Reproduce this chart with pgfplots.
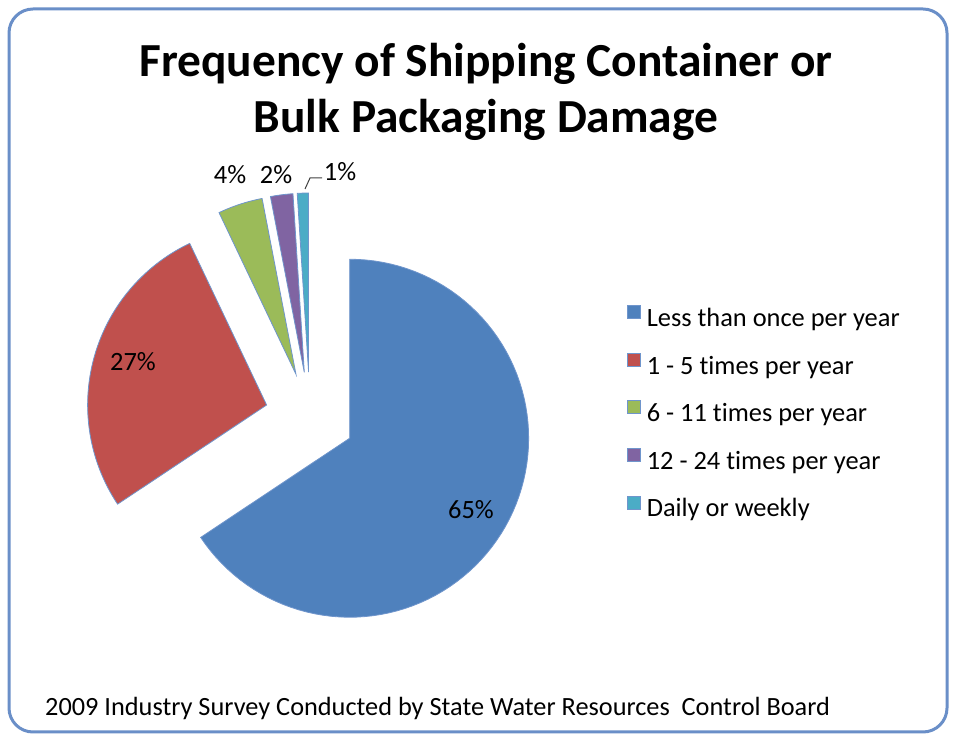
\documentclass[border=0pt]{standalone}
\usepackage{fontspec}
\setmainfont{Carlito}[Ligatures=NoCommon]
\usepackage{pgfplots}
\pgfplotsset{compat=1.18}
\definecolor{sblue}{HTML}{4F81BD}
\definecolor{sred}{HTML}{C0504D}
\definecolor{sgreen}{HTML}{9BBB59}
\definecolor{spurple}{HTML}{8064A2}
\definecolor{scyan}{HTML}{4BACC6}
\definecolor{edge}{HTML}{6F95CC}
\definecolor{border}{HTML}{6A8FC8}
% one pie slice: #1 = cumulative share before it, #2 = its share, #3 = colour
\newcommand\pieslice[3]{%
  \pgfmathsetmacro\aS{90-(#1+#2)/99*360}%
  \pgfmathsetmacro\aE{90-(#1)/99*360}%
  \pgfmathsetmacro\cx{310+45*cos(90-(#1+#2/2)/99*360)}%
  \pgfmathsetmacro\cy{319+45*sin(90-(#1+#2/2)/99*360)}%
  \edef\temp{\noexpand\addplot[fill=#3, draw=edge, line width=0.8bp,
     domain=\aS:\aE, samples=90]
     ({\cx+179*cos(x)},{\cy+179*sin(x)}) -- (axis cs:\cx,\cy) -- cycle;}%
  \temp}
\begin{document}
\begin{tikzpicture}
\begin{axis}[x=1bp, y=1bp, xmin=0, xmax=953, ymin=0, ymax=736,
  scale only axis, hide axis, clip=false,
  legend cell align=left,
  legend image code/.code={\draw[#1, line width=0.6bp] (0bp,1.5bp) rectangle (13bp,14.5bp);},
  legend style={at={(axis cs:627,431)}, anchor=north west, draw=none, fill=none,
    inner sep=0pt, row sep=21.3bp,
    font=\fontsize{26.5}{30}\selectfont,
    nodes={inner sep=0pt, text height=18bp, text depth=5bp}},
  ]
\path (axis cs:0,0) rectangle (axis cs:953,736);
\draw[border, line width=3bp, rounded corners=24bp] (axis cs:9,4) rectangle (axis cs:947,727);
% values: 65, 27, 4, 2, 1 (percent)
\pieslice{0}{65}{sblue}
\pieslice{65}{27}{sred}
\pieslice{92}{4}{sgreen}
\pieslice{96}{2}{spurple}
\pieslice{98}{1}{scyan}
\legend{\ Less than once per year,\ 1 - 5 times per year,\ 6 - 11 times per year,\ 12 - 24 times per year,\ Daily or weekly}
\node[anchor=base, font=\fontsize{47.6}{56}\selectfont\bfseries] at (axis cs:486,659) {Frequency of Shipping Container or};
\node[anchor=base, font=\fontsize{47.6}{56}\selectfont\bfseries] at (axis cs:486,603) {Bulk Packaging Damage};
\node[anchor=base west, font=\fontsize{26.4}{30}\selectfont, inner sep=0pt] at (axis cs:45,20) {2009 Industry Survey Conducted by State Water Resources\ \ Control Board};
\node[font=\fontsize{26.5}{30}\selectfont] at (axis cs:471,226) {65\%};
\node[font=\fontsize{26.5}{30}\selectfont] at (axis cs:133,374) {27\%};
\node[font=\fontsize{26.5}{30}\selectfont] at (axis cs:230,561) {4\%};
\node[font=\fontsize{26.5}{30}\selectfont] at (axis cs:276,561) {2\%};
\node[font=\fontsize{26.5}{30}\selectfont] at (axis cs:340,564) {1\%};
\draw[black!75, line width=1bp] (axis cs:305,547) -- (axis cs:310,558) -- (axis cs:322,558);
\end{axis}
\end{tikzpicture}
\end{document}
